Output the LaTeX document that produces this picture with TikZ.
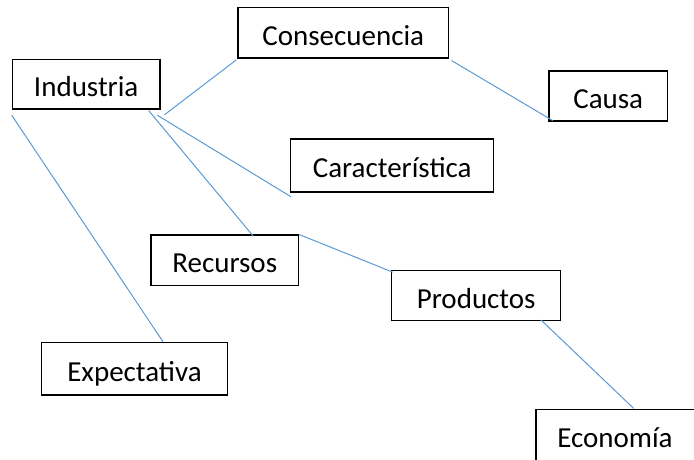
\documentclass[tikz,border=0pt]{standalone}
\usepackage{fontspec}
\setmainfont{Carlito}
\definecolor{linkblue}{HTML}{5B9BD5}
\tikzset{
  wbox/.style={draw=black, line width=1.2pt, inner sep=0pt, text height=26pt, text depth=1.2pt,
    font=\fontsize{29}{34}\selectfont},
  link/.style={draw=linkblue, line width=1pt}
}
\begin{document}
\begin{tikzpicture}[x=1pt,y=-1pt]
\useasboundingbox (0,0) rectangle (694,459);
\clip (0,0) rectangle (694,459);
\fill[white] (0,0) rectangle (694,459);
\node[wbox, minimum width=147.7pt, minimum height=49.3pt] (ind) at (86.2,84.3) {Industria};
\node[wbox, minimum width=210.7pt, minimum height=50.3pt] (con) at (343.3,32.8) {Consecuencia};
\node[wbox, minimum width=118.3pt, minimum height=50pt] (cau) at (608.2,96) {Causa};
\node[wbox, minimum width=203pt, minimum height=53pt] (car) at (392.2,165.5) {Característica};
\node[wbox, minimum width=147.3pt, minimum height=50.3pt] (rec) at (224.7,260.2) {Recursos};
\node[wbox, minimum width=185.6pt, minimum height=52.7pt] (exp) at (134.5,368.7) {Expectativa};
\node[wbox, minimum width=169pt, minimum height=50pt] (pro) at (476.2,295.7) {Productos};
\node[wbox, minimum height=52pt, text width=133.4pt, inner xsep=21.3pt, align=left] (eco) at (624,435.5) {Economía};
\draw[link] ([shift={(3.7,5.3)}]ind.south east) -- ([shift={(-1,1.3)}]con.south west);
\draw[link] ([shift={(-3.3,5.7)}]ind.south east) -- ([shift={(0.6,4)}]car.south west);
\draw[link] ([shift={(-12,1)}]ind.south east) -- ([shift={(28.6,1.7)}]rec.north);
\draw[link] ([shift={(0,5.7)}]ind.south west) -- ([shift={(28.5,0)}]exp.north);
\draw[link] ([shift={(2.3,2)}]con.south east) -- ([shift={(4.3,-1)}]cau.south west);
\draw[link] (rec.north east) -- ([shift={(1.6,2)}]pro.north west);
\draw[link] ([shift={(-20.4,-1.4)}]pro.south east) -- ([shift={(98.3,-0.5)}]eco.north west);
\end{tikzpicture}
\end{document}
